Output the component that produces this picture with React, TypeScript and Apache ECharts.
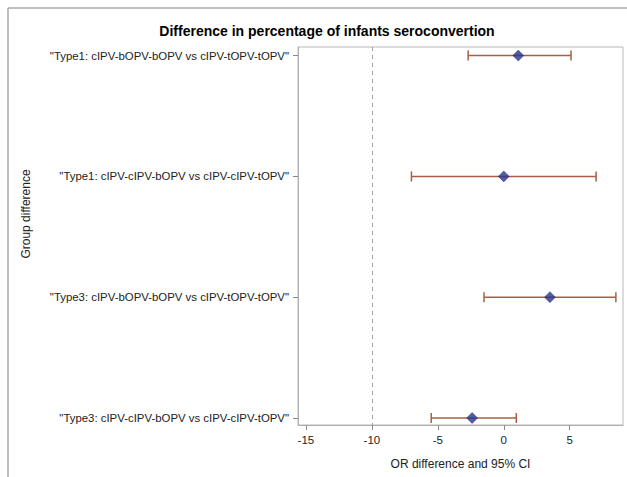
import { useEffect, useRef } from "react";
import * as echarts from "echarts";

const TITLE = "Difference in percentage of infants seroconvertion";
const X_NAME = "OR difference and 95% CI";
const Y_NAME = "Group difference";
const groups = [
  '"Type1: cIPV-bOPV-bOPV vs cIPV-tOPV-tOPV"',
  '"Type1: cIPV-cIPV-bOPV vs cIPV-cIPV-tOPV"',
  '"Type3: cIPV-bOPV-bOPV vs cIPV-tOPV-tOPV"',
  '"Type3: cIPV-cIPV-bOPV vs cIPV-cIPV-tOPV"',
];
const estimates = [1.1, 0.0, 3.5, -2.4];
const lower = [-2.7, -7.0, -1.5, -5.5];
const upper = [5.1, 7.0, 8.5, 0.95];
const xTicks = [-15, -10, -5, 0, 5];
const yTicks = [0, 1, 2, 3];
const refLine = -10;

const FONT = 'Arial, "Liberation Sans", Helvetica, sans-serif';

export default function App() {
  const ref = useRef<HTMLDivElement>(null);
  useEffect(() => {
    document.body.style.margin = "0";
    const chart = echarts.init(ref.current!, null, { renderer: "svg" });
    const barStyle = { stroke: "#a85e44", lineWidth: 1.5 };
    chart.setOption({
      animation: false,
      textStyle: { fontFamily: FONT },
      title: {
        text: TITLE,
        left: 322,
        top: 19,
        textAlign: "center",
        textStyle: { fontSize: 14, fontWeight: "bold", color: "#000", fontFamily: FONT },
      },
      grid: {
        left: 298,
        right: 4,
        top: 47,
        bottom: 52,
        show: true,
        borderColor: "#b8b8b8",
        borderWidth: 1,
        backgroundColor: "transparent",
      },
      xAxis: {
        type: "value",
        min: -15.6,
        max: 9.04,
        name: X_NAME,
        nameLocation: "middle",
        nameGap: 33,
        nameTextStyle: { fontSize: 12, color: "#222", fontFamily: FONT },
        axisLine: { show: true, onZero: false, lineStyle: { color: "#b0b0b0" } },
        axisTick: { show: true, length: 5, customValues: xTicks, lineStyle: { color: "#888" } },
        axisLabel: { customValues: xTicks, margin: 9, fontSize: 11.5, color: "#222", fontFamily: FONT },
        splitLine: { show: false },
      },
      yAxis: {
        type: "value",
        inverse: true,
        min: -0.071,
        max: 3.058,
        axisLine: { show: true, onZero: false, lineStyle: { color: "#b0b0b0" } },
        axisTick: { show: true, length: 5, customValues: yTicks, lineStyle: { color: "#888" } },
        axisLabel: {
          customValues: yTicks,
          margin: 9,
          fontSize: 11.4,
          color: "#222",
          fontFamily: FONT,
          formatter: (v: number) => groups[Math.round(v)] ?? "",
        },
        splitLine: { show: false },
      },
      graphic: [
        { type: "line", shape: { x1: 8, y1: 8, x2: 627, y2: 8 }, style: { stroke: "#a8a8a8", lineWidth: 1.5 } },
        { type: "line", shape: { x1: 8, y1: 8, x2: 8, y2: 477 }, style: { stroke: "#a8a8a8", lineWidth: 1.5 } },
        {
          type: "text",
          x: 26,
          y: 214,
          rotation: Math.PI / 2,
          style: {
            text: Y_NAME,
            fontSize: 12,
            fill: "#222",
            fontFamily: FONT,
            align: "center",
            verticalAlign: "middle",
          },
        },
      ],
      series: [
        {
          type: "custom",
          data: groups.map((_, i) => [i, lower[i], upper[i]]),
          encode: { x: [1, 2], y: 0 },
          renderItem: (_p: any, api: any) => {
            const y = api.value(0);
            const p1 = api.coord([api.value(1), y]);
            const p2 = api.coord([api.value(2), y]);
            const h = 5;
            return {
              type: "group",
              children: [
                { type: "line", shape: { x1: p1[0], y1: p1[1], x2: p2[0], y2: p2[1] }, style: barStyle },
                { type: "line", shape: { x1: p1[0], y1: p1[1] - h, x2: p1[0], y2: p1[1] + h }, style: barStyle },
                { type: "line", shape: { x1: p2[0], y1: p2[1] - h, x2: p2[0], y2: p2[1] + h }, style: barStyle },
              ],
            };
          },
          z: 2,
        },
        {
          type: "scatter",
          data: estimates.map((v, i) => [v, i]),
          symbol: "diamond",
          symbolSize: 11,
          itemStyle: { color: "#27338a", borderColor: "#1a2468", borderWidth: 0.5 },
          z: 3,
          markLine: {
            silent: true,
            symbol: "none",
            label: { show: false },
            lineStyle: { color: "#a0a0a0", type: [4, 4], width: 1 },
            data: [{ xAxis: refLine }],
          },
        },
      ],
    });
    return () => chart.dispose();
  }, []);
  return <div ref={ref} style={{ width: 627, height: 477 }} />;
}
